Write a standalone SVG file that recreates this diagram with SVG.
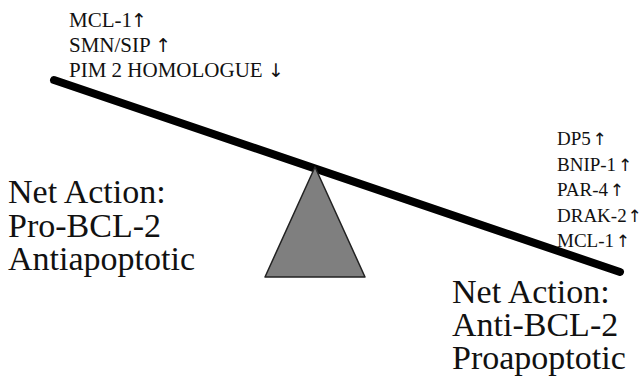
<svg xmlns="http://www.w3.org/2000/svg" width="641" height="377" viewBox="0 0 641 377">
<style>
.t{font-family:"Liberation Serif","DejaVu Serif",serif;fill:#111;}
.s{font-size:21px;}
.r{font-size:19px;}
.b{font-size:34px;}
.a{font-family:"DejaVu Sans",sans-serif;font-size:19px;}
.ar{font-family:"DejaVu Sans",sans-serif;font-size:17px;}
</style>
<rect width="641" height="377" fill="#fff"/>
<g id="beam">
<line x1="54" y1="80" x2="620" y2="272" stroke="#000" stroke-width="8" stroke-linecap="round"/>
</g>
<g id="fulcrum">
<polygon points="315,167 265,277 365,277" fill="#7f7f7f" stroke="#222" stroke-width="1.5" stroke-linejoin="round"/>
</g>
<g id="top-left-list" class="t s">
<text x="69" y="27">MCL-1<tspan class="a" dx="-1">↑</tspan></text>
<text x="69" y="52">SMN/SIP  <tspan class="a">↑</tspan></text>
<text x="69" y="77">PIM 2 HOMOLOGUE  <tspan class="a">↓</tspan></text>
</g>
<g id="right-list" class="t r">
<text x="557" y="145">DP5 <tspan class="ar" dx="-3">↑</tspan></text>
<text x="557" y="170.5">BNIP-1 <tspan class="ar" dx="-3">↑</tspan></text>
<text x="557" y="196">PAR-4 <tspan class="ar" dx="-3">↑</tspan></text>
<text x="557" y="221.5">DRAK-2 <tspan class="ar" dx="-4">↑</tspan></text>
<text x="557" y="247">MCL-1 <tspan class="ar" dx="-3">↑</tspan></text>
</g>
<g id="left-label" class="t b">
<text x="8" y="203">Net Action:</text>
<text x="8" y="237">Pro-BCL-2</text>
<text x="8" y="270">Antiapoptotic</text>
</g>
<g id="right-label" class="t b">
<text x="452" y="303">Net Action:</text>
<text x="452" y="336">Anti-BCL-2</text>
<text x="452" y="369">Proapoptotic</text>
</g>
</svg>
